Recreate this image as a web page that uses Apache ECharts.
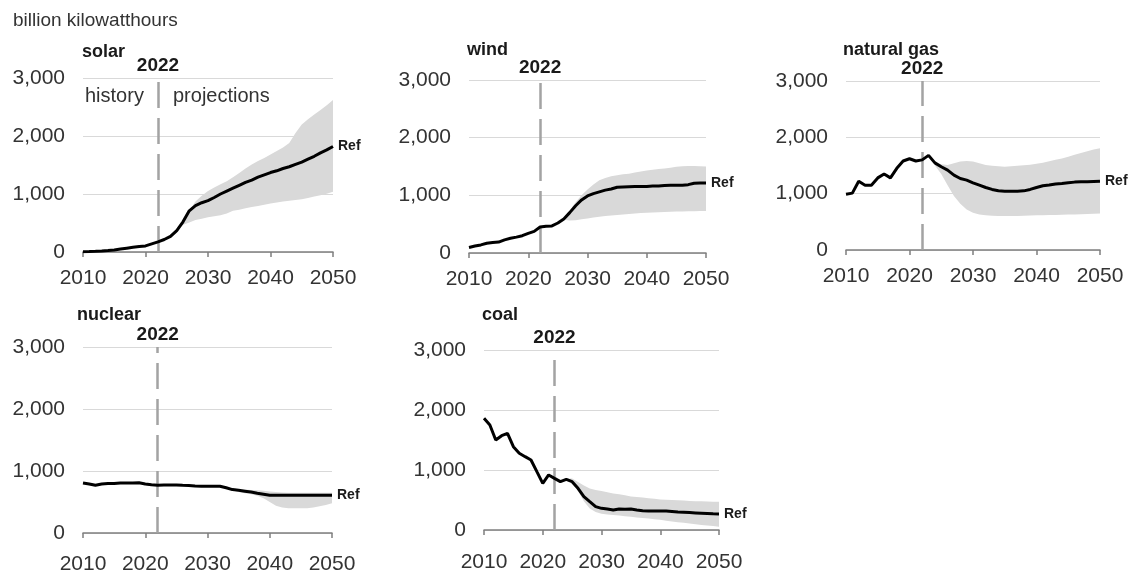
<!DOCTYPE html>
<html>
<head>
<meta charset="utf-8">
<script src="https://cdn.jsdelivr.net/npm/echarts@6/dist/echarts.min.js"></script>
<style>
  html, body { margin: 0; padding: 0; background: #fff; }
  #chart { width: 1143px; height: 577px; }
</style>
</head>
<body>
<div id="chart"></div>
<script>
// years 2010..2050
const years = [];
for (let y = 2010; y <= 2050; y++) years.push(String(y));

// billion kWh
const solarRef = [5, 8, 12, 18, 25, 35, 50, 65, 80, 95,
  105, 140, 175, 215, 270, 370, 520, 710, 800, 850,
  885, 940, 1000, 1050, 1100, 1150, 1200, 1240, 1290, 1330,
  1370, 1400, 1440, 1470, 1510, 1550, 1600, 1650, 1710, 1760, 1820];
const solarLow = [null, null, null, null, null, null, null, null, null, null,
  null, null, null, null, null, 370, 470, 510, 550, 575,
  600, 615, 635, 665, 710, 730, 755, 775, 795, 815,
  835, 855, 870, 885, 895, 910, 930, 955, 980, 1005, 1040];
const solarHigh = [null, null, null, null, null, null, null, null, null, null,
  null, null, null, null, null, 370, 560, 720, 870, 970,
  1050, 1110, 1170, 1220, 1290, 1360, 1440, 1510, 1570, 1620,
  1680, 1740, 1800, 1880, 2050, 2200, 2290, 2370, 2450, 2530, 2620];

const windRef = [95, 120, 140, 168, 182, 190, 228, 255, 275, 300,
  340, 375, 450, 465, 470, 520, 590, 700, 820, 920,
  990, 1030, 1060, 1090, 1110, 1140, 1145, 1150, 1155, 1155,
  1155, 1160, 1160, 1170, 1175, 1175, 1175, 1185, 1210, 1215, 1215];
const windLow = [null, null, null, null, null, null, null, null, null, null,
  null, null, null, null, null, null, 575, 565, 570, 585,
  600, 615, 628, 640, 650, 660, 668, 676, 684, 692,
  700, 704, 708, 712, 715, 718, 720, 722, 725, 728, 730];
const windHigh = [null, null, null, null, null, null, null, null, null, null,
  null, null, null, null, null, null, 600, 740, 880, 1000,
  1100, 1190, 1260, 1300, 1330, 1350, 1365, 1375, 1395, 1415,
  1430, 1445, 1455, 1465, 1480, 1495, 1505, 1510, 1508, 1503, 1500];

const gasRef = [990, 1010, 1220, 1150, 1150, 1280, 1350, 1280, 1450, 1580,
  1620, 1580, 1600, 1680, 1547, 1477, 1418, 1329, 1270, 1240,
  1193, 1152, 1110, 1075, 1051, 1045, 1045, 1045, 1050, 1075,
  1110, 1140, 1152, 1170, 1181, 1193, 1205, 1210, 1210, 1215, 1220];
const gasLow = [null, null, null, null, null, null, null, null, null, null,
  null, null, null, null, 1500, 1350, 1150, 960, 820, 720,
  660, 630, 615, 610, 605, 605, 605, 605, 610, 612,
  615, 618, 620, 622, 625, 628, 632, 636, 640, 645, 650];
const gasHigh = [null, null, null, null, null, null, null, null, null, null,
  null, null, null, null, 1560, 1520, 1510, 1540, 1570, 1580,
  1570, 1540, 1510, 1495, 1485, 1480, 1485, 1495, 1505, 1515,
  1530, 1550, 1575, 1600, 1625, 1655, 1690, 1720, 1755, 1785, 1805];

const nuclearRef = [807, 790, 769, 789, 797, 797, 805, 805, 807, 809,
  790, 778, 772, 775, 775, 775, 770, 768, 760, 755,
  755, 755, 755, 730, 700, 690, 675, 660, 640, 625,
  610, 610, 610, 610, 610, 610, 610, 610, 610, 610, 610];
const nuclearLow = [null, null, null, null, null, null, null, null, null, null,
  null, null, null, null, null, null, null, null, null, null,
  null, null, null, 725, 690, 660, 640, 625, 600, 560,
  500, 440, 410, 400, 398, 398, 400, 410, 430, 450, 480];
const nuclearHigh = [null, null, null, null, null, null, null, null, null, null,
  null, null, null, null, null, null, null, null, null, null,
  null, null, null, 735, 720, 705, 700, 695, 690, 680,
  670, 660, 655, 650, 650, 650, 650, 650, 650, 650, 650];

const coalRef = [1861, 1750, 1500, 1572, 1611, 1389, 1278, 1222, 1167, 972,
  778, 917, 861, 806, 844, 806, 694, 556, 472, 389,
  361, 350, 333, 350, 344, 350, 333, 322, 317, 317,
  317, 317, 310, 300, 295, 290, 285, 280, 275, 270, 267];
const coalLow = [null, null, null, null, null, null, null, null, null, null,
  null, null, null, null, 830, 780, 650, 480, 360, 300,
  270, 260, 250, 240, 230, 220, 210, 200, 190, 180,
  170, 155, 140, 130, 120, 110, 95, 85, 75, 65, 55];
const coalHigh = [null, null, null, null, null, null, null, null, null, null,
  null, null, null, null, 860, 860, 800, 740, 690, 665,
  650, 630, 610, 595, 580, 560, 550, 540, 530, 520,
  510, 505, 500, 495, 490, 485, 480, 478, 475, 472, 470];

const panels = [
  { name: "solar", ref: solarRef, low: solarLow, high: solarHigh,
    box: { left: 83, top: 78, width: 250, height: 174 }, titlePos: [77, 38], xMargin: 16 },
  { name: "wind", ref: windRef, low: windLow, high: windHigh,
    box: { left: 469, top: 80, width: 237, height: 173 }, titlePos: [462, 36], xMargin: 16 },
  { name: "natural gas", ref: gasRef, low: gasLow, high: gasHigh,
    box: { left: 846, top: 81, width: 254, height: 169 }, titlePos: [838, 36], xMargin: 16 },
  { name: "nuclear", ref: nuclearRef, low: nuclearLow, high: nuclearHigh,
    box: { left: 83, top: 347, width: 249, height: 186 }, titlePos: [72, 301], xMargin: 21 },
  { name: "coal", ref: coalRef, low: coalLow, high: coalHigh,
    box: { left: 484, top: 350, width: 235, height: 180 }, titlePos: [477, 301], xMargin: 22 },
];

const FONT = "Liberation Sans, Arial, sans-serif";
const chart = echarts.init(document.getElementById("chart"), null, { renderer: "canvas" });

const grid = [], xAxis = [], yAxis = [], series = [];
const title = [{
  text: "billion kilowatthours", left: 8, top: 6,
  textStyle: { fontFamily: FONT, fontSize: 19, fontWeight: "normal", color: "#333" },
}];

panels.forEach((p, i) => {
  grid.push({ ...p.box, containLabel: false });
  title.push({
    text: p.name, left: p.titlePos[0], top: p.titlePos[1],
    textStyle: { fontFamily: FONT, fontSize: 18, fontWeight: "bold", color: "#1a1a1a" },
  });
  xAxis.push({
    type: "category", gridIndex: i, data: years, boundaryGap: false,
    axisLine: { lineStyle: { color: "#7f7f7f", width: 1.5 } },
    axisTick: { interval: 9, length: 5, lineStyle: { color: "#7f7f7f", width: 1.5 } },
    axisLabel: { interval: 9, margin: p.xMargin, fontFamily: FONT, fontSize: 21, color: "#333" },
    splitLine: { show: false },
  });
  yAxis.push({
    type: "value", gridIndex: i, min: 0, max: 3000, interval: 1000,
    axisLine: { show: false }, axisTick: { show: false },
    axisLabel: {
      margin: 18, fontFamily: FONT, fontSize: 21, color: "#333",
      formatter: v => v.toLocaleString("en-US"),
    },
    splitLine: { lineStyle: { color: "#d9d9d9", width: 1 } },
  });

  // range band: invisible lower series + stacked (high - low) filled on top
  const diff = p.high.map((h, k) => (h == null ? null : h - p.low[k]));
  series.push({
    type: "line", xAxisIndex: i, yAxisIndex: i, stack: "band" + i,
    data: p.low, symbol: "none", silent: true,
    lineStyle: { opacity: 0 },
  });
  series.push({
    type: "line", xAxisIndex: i, yAxisIndex: i, stack: "band" + i,
    data: diff, symbol: "none", silent: true,
    lineStyle: { opacity: 0 },
    areaStyle: { color: "#d9d9d9", opacity: 1 },
  });
  series.push({
    type: "line", xAxisIndex: i, yAxisIndex: i, name: p.name + " Ref",
    data: p.ref, symbol: "none", z: 5,
    lineStyle: { color: "#000", width: 3 },
    endLabel: {
      show: true, formatter: "Ref", distance: 5,
      fontFamily: FONT, fontSize: 14, fontWeight: "bold", color: "#1a1a1a",
    },
    markLine: {
      silent: true, symbol: "none", z: 1,
      lineStyle: { color: "#a3a3a3", width: 2.5, type: [26, 10] },
      label: {
        show: true, position: "end", formatter: "2022", distance: 3,
        fontFamily: FONT, fontSize: 19, fontWeight: "bold", color: "#1a1a1a",
      },
      data: [{ xAxis: "2022" }],
    },
  });
});

chart.setOption({
  animation: false,
  title,
  grid, xAxis, yAxis, series,
  graphic: [
    { type: "text", left: 85, top: 86,
      style: { text: "history", font: "20px " + FONT, fill: "#333" } },
    { type: "text", left: 173, top: 86,
      style: { text: "projections", font: "20px " + FONT, fill: "#333" } },
  ],
});
</script>
</body>
</html>
